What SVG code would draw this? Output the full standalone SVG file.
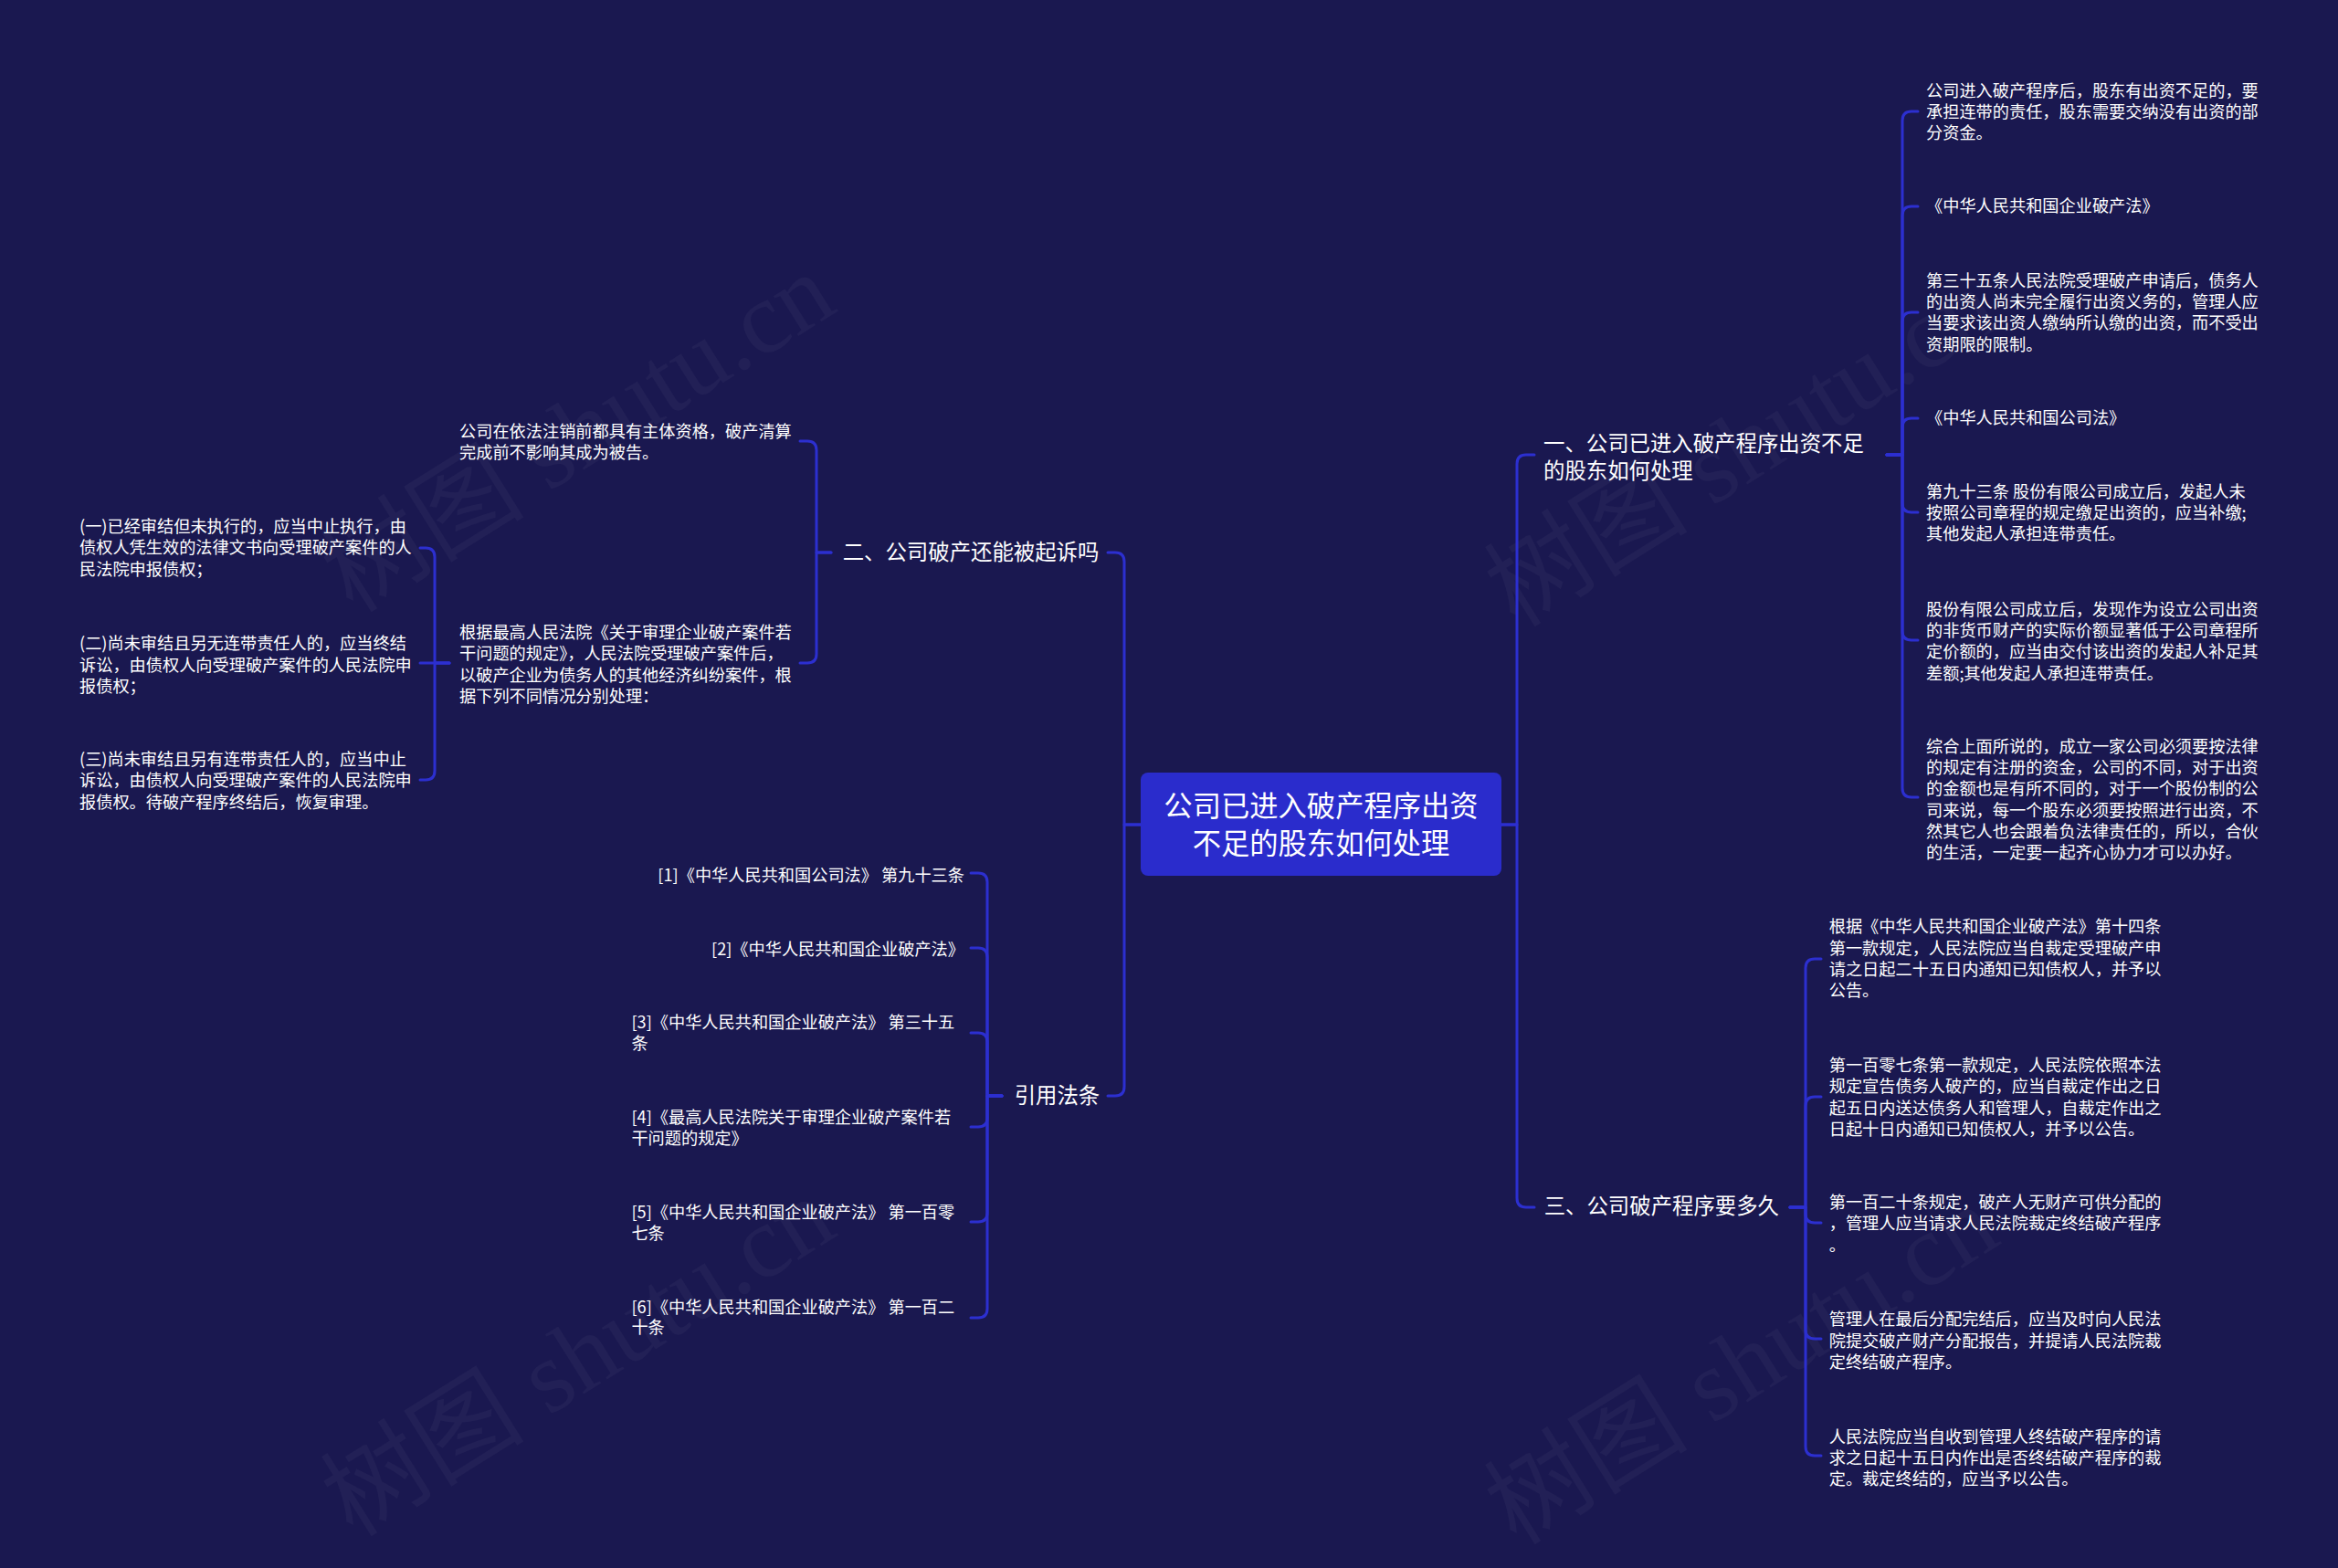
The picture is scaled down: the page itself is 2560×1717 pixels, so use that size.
<svg xmlns="http://www.w3.org/2000/svg" width="2560" height="1717" viewBox="0 0 2560 1717">
<defs>
<style>
.bg{fill:#1a1850}
.ln{fill:none;stroke:#2c2fd0;stroke-width:3;stroke-linecap:round;stroke-linejoin:round}
.t{font-family:"Noto Sans CJK SC","Noto Sans",sans-serif;fill:#ffffff}
.s{font-size:18.2px}
.m{font-size:23.4px}
.r{font-size:31.3px}
.wm{font-family:"Liberation Serif","Noto Sans CJK SC",serif;font-size:112px;fill:#ffffff;fill-opacity:0.035}
</style>
</defs>
<rect class="bg" x="0" y="0" width="2560" height="1717"/>
<g id="watermarks">
<text class="wm" text-anchor="middle" transform="translate(653,506) rotate(-32)">树图 shutu.cn</text>
<text class="wm" text-anchor="middle" transform="translate(1927,522) rotate(-32)">树图 shutu.cn</text>
<text class="wm" text-anchor="middle" transform="translate(653,1518) rotate(-32)">树图 shutu.cn</text>
<text class="wm" text-anchor="middle" transform="translate(1927,1527) rotate(-32)">树图 shutu.cn</text>
</g>
<g id="connectors">
<path class="ln" d="M1644 903 H1661 V508 Q1661 498 1671 498 H1680"/>
<path class="ln" d="M1644 903 H1661 V1312 Q1661 1322 1671 1322 H1680"/>
<path class="ln" d="M1249 903 H1231 V615 Q1231 605 1221 605 H1213"/>
<path class="ln" d="M1249 903 H1231 V1190 Q1231 1200 1221 1200 H1213"/>
<path class="ln" d="M2066 498 H2083 V132 Q2083 122 2093 122 H2100"/>
<path class="ln" d="M2066 498 H2083 V236 Q2083 226 2093 226 H2100"/>
<path class="ln" d="M2066 498 H2083 V352 Q2083 342 2093 342 H2100"/>
<path class="ln" d="M2066 498 H2083 V468 Q2083 458 2093 458 H2100"/>
<path class="ln" d="M2066 498 H2083 V551 Q2083 561 2093 561 H2100"/>
<path class="ln" d="M2066 498 H2083 V691 Q2083 701 2093 701 H2100"/>
<path class="ln" d="M2066 498 H2083 V863 Q2083 873 2093 873 H2100"/>
<path class="ln" d="M1960 1322 H1977 V1060 Q1977 1050 1987 1050 H1994"/>
<path class="ln" d="M1960 1322 H1977 V1211 Q1977 1201 1987 1201 H1994"/>
<path class="ln" d="M1960 1322 H1977 V1329 Q1977 1339 1987 1339 H1994"/>
<path class="ln" d="M1960 1322 H1977 V1456 Q1977 1466 1987 1466 H1994"/>
<path class="ln" d="M1960 1322 H1977 V1584 Q1977 1594 1987 1594 H1994"/>
<path class="ln" d="M910 605 H894 V493 Q894 483 884 483 H876"/>
<path class="ln" d="M910 605 H894 V716 Q894 726 884 726 H876"/>
<path class="ln" d="M492 726 H476 V610 Q476 600 466 600 H460"/>
<path class="ln" d="M492 726 H460"/>
<path class="ln" d="M492 726 H476 V844 Q476 854 466 854 H460"/>
<path class="ln" d="M1097 1200 H1081 V966 Q1081 956 1071 956 H1063"/>
<path class="ln" d="M1097 1200 H1081 V1048 Q1081 1038 1071 1038 H1063"/>
<path class="ln" d="M1097 1200 H1081 V1141 Q1081 1131 1071 1131 H1063"/>
<path class="ln" d="M1097 1200 H1081 V1224 Q1081 1234 1071 1234 H1063"/>
<path class="ln" d="M1097 1200 H1081 V1328 Q1081 1338 1071 1338 H1063"/>
<path class="ln" d="M1097 1200 H1081 V1433 Q1081 1443 1071 1443 H1063"/>
</g>
<g id="root">
<rect x="1249" y="846" width="395" height="113" rx="8" fill="#2a2ccc"/>
<text class="t r" text-anchor="middle"><tspan x="1446.5" y="893.5">公司已进入破产程序出资</tspan><tspan x="1446.5" y="934.6">不足的股东如何处理</tspan></text>
</g>
<g id="n1">
<text class="t m"><tspan x="1690" y="494.2">一、公司已进入破产程序出资不足</tspan><tspan x="1690" y="524.2">的股东如何处理</tspan></text>
</g>
<g id="n2">
<text class="t m"><tspan x="922.7" y="613.2">二、公司破产还能被起诉吗</tspan></text>
</g>
<g id="n3">
<text class="t m"><tspan x="1110.7" y="1208.2">引用法条</tspan></text>
</g>
<g id="n4">
<text class="t m"><tspan x="1690.7" y="1329.2">三、公司破产程序要多久</tspan></text>
</g>
<g id="c1">
<text class="t s"><tspan x="2109" y="105.7">公司进入破产程序后，股东有出资不足的，要</tspan><tspan x="2109" y="129.1">承担连带的责任，股东需要交纳没有出资的部</tspan><tspan x="2109" y="152.4">分资金。</tspan></text>
</g>
<g id="c2">
<text class="t s"><tspan x="2109" y="232.4">《中华人民共和国企业破产法》</tspan></text>
</g>
<g id="c3">
<text class="t s"><tspan x="2109" y="313.7">第三十五条人民法院受理破产申请后，债务人</tspan><tspan x="2109" y="337.1">的出资人尚未完全履行出资义务的，管理人应</tspan><tspan x="2109" y="360.4">当要求该出资人缴纳所认缴的出资，而不受出</tspan><tspan x="2109" y="383.7">资期限的限制。</tspan></text>
</g>
<g id="c4">
<text class="t s"><tspan x="2109" y="464.4">《中华人民共和国公司法》</tspan></text>
</g>
<g id="c5">
<text class="t s"><tspan x="2109" y="544.7">第九十三条 股份有限公司成立后，发起人未</tspan><tspan x="2109" y="568.1">按照公司章程的规定缴足出资的，应当补缴;</tspan><tspan x="2109" y="591.4">其他发起人承担连带责任。</tspan></text>
</g>
<g id="c6">
<text class="t s"><tspan x="2109" y="673.7">股份有限公司成立后，发现作为设立公司出资</tspan><tspan x="2109" y="697.1">的非货币财产的实际价额显著低于公司章程所</tspan><tspan x="2109" y="720.4">定价额的，应当由交付该出资的发起人补足其</tspan><tspan x="2109" y="743.7">差额;其他发起人承担连带责任。</tspan></text>
</g>
<g id="c7">
<text class="t s"><tspan x="2109" y="823.7">综合上面所说的，成立一家公司必须要按法律</tspan><tspan x="2109" y="847.1">的规定有注册的资金，公司的不同，对于出资</tspan><tspan x="2109" y="870.4">的金额也是有所不同的，对于一个股份制的公</tspan><tspan x="2109" y="893.7">司来说，每一个股东必须要按照进行出资，不</tspan><tspan x="2109" y="917.1">然其它人也会跟着负法律责任的，所以，合伙</tspan><tspan x="2109" y="940.4">的生活，一定要一起齐心协力才可以办好。</tspan></text>
</g>
<g id="d1">
<text class="t s"><tspan x="2002.7" y="1021.4">根据《中华人民共和国企业破产法》第十四条</tspan><tspan x="2002.7" y="1044.7">第一款规定，人民法院应当自裁定受理破产申</tspan><tspan x="2002.7" y="1068.1">请之日起二十五日内通知已知债权人，并予以</tspan><tspan x="2002.7" y="1091.4">公告。</tspan></text>
</g>
<g id="d2">
<text class="t s"><tspan x="2002.7" y="1173.1">第一百零七条第一款规定，人民法院依照本法</tspan><tspan x="2002.7" y="1196.4">规定宣告债务人破产的，应当自裁定作出之日</tspan><tspan x="2002.7" y="1219.7">起五日内送达债务人和管理人，自裁定作出之</tspan><tspan x="2002.7" y="1243.1">日起十日内通知已知债权人，并予以公告。</tspan></text>
</g>
<g id="d3">
<text class="t s"><tspan x="2002.7" y="1323.1">第一百二十条规定，破产人无财产可供分配的</tspan><tspan x="2002.7" y="1346.4">，管理人应当请求人民法院裁定终结破产程序</tspan><tspan x="2002.7" y="1369.7">。</tspan></text>
</g>
<g id="d4">
<text class="t s"><tspan x="2002.7" y="1451.4">管理人在最后分配完结后，应当及时向人民法</tspan><tspan x="2002.7" y="1474.7">院提交破产财产分配报告，并提请人民法院裁</tspan><tspan x="2002.7" y="1498.1">定终结破产程序。</tspan></text>
</g>
<g id="d5">
<text class="t s"><tspan x="2002.7" y="1579.7">人民法院应当自收到管理人终结破产程序的请</tspan><tspan x="2002.7" y="1603.1">求之日起十五日内作出是否终结破产程序的裁</tspan><tspan x="2002.7" y="1626.4">定。裁定终结的，应当予以公告。</tspan></text>
</g>
<g id="e1">
<text class="t s"><tspan x="503" y="479.1">公司在依法注销前都具有主体资格，破产清算</tspan><tspan x="503" y="502.4">完成前不影响其成为被告。</tspan></text>
</g>
<g id="e2">
<text class="t s"><tspan x="503" y="699.1">根据最高人民法院《关于审理企业破产案件若</tspan><tspan x="503" y="722.4">干问题的规定》，人民法院受理破产案件后，</tspan><tspan x="503" y="745.7">以破产企业为债务人的其他经济纠纷案件，根</tspan><tspan x="503" y="769.1">据下列不同情况分别处理：</tspan></text>
</g>
<g id="f1">
<text class="t s"><tspan x="87" y="583.1">(一)已经审结但未执行的，应当中止执行，由</tspan><tspan x="87" y="606.4">债权人凭生效的法律文书向受理破产案件的人</tspan><tspan x="87" y="629.7">民法院申报债权；</tspan></text>
</g>
<g id="f2">
<text class="t s"><tspan x="87" y="711.4">(二)尚未审结且另无连带责任人的，应当终结</tspan><tspan x="87" y="734.7">诉讼，由债权人向受理破产案件的人民法院申</tspan><tspan x="87" y="758.1">报债权；</tspan></text>
</g>
<g id="f3">
<text class="t s"><tspan x="87" y="838.1">(三)尚未审结且另有连带责任人的，应当中止</tspan><tspan x="87" y="861.4">诉讼，由债权人向受理破产案件的人民法院申</tspan><tspan x="87" y="884.7">报债权。待破产程序终结后，恢复审理。</tspan></text>
</g>
<g id="g1">
<text class="t s" text-anchor="end"><tspan x="1056" y="965">[1]《中华人民共和国公司法》 第九十三条</tspan></text>
</g>
<g id="g2">
<text class="t s" text-anchor="end"><tspan x="1056" y="1046">[2]《中华人民共和国企业破产法》</tspan></text>
</g>
<g id="g3">
<text class="t s"><tspan x="691.4" y="1126.4">[3]《中华人民共和国企业破产法》 第三十五</tspan><tspan x="691.4" y="1149.4">条</tspan></text>
</g>
<g id="g4">
<text class="t s"><tspan x="691.4" y="1230">[4]《最高人民法院关于审理企业破产案件若</tspan><tspan x="691.4" y="1253.2">干问题的规定》</tspan></text>
</g>
<g id="g5">
<text class="t s"><tspan x="691.4" y="1334.3">[5]《中华人民共和国企业破产法》 第一百零</tspan><tspan x="691.4" y="1356.8">七条</tspan></text>
</g>
<g id="g6">
<text class="t s"><tspan x="691.4" y="1437.8">[6]《中华人民共和国企业破产法》 第一百二</tspan><tspan x="691.4" y="1460.3">十条</tspan></text>
</g>
</svg>
